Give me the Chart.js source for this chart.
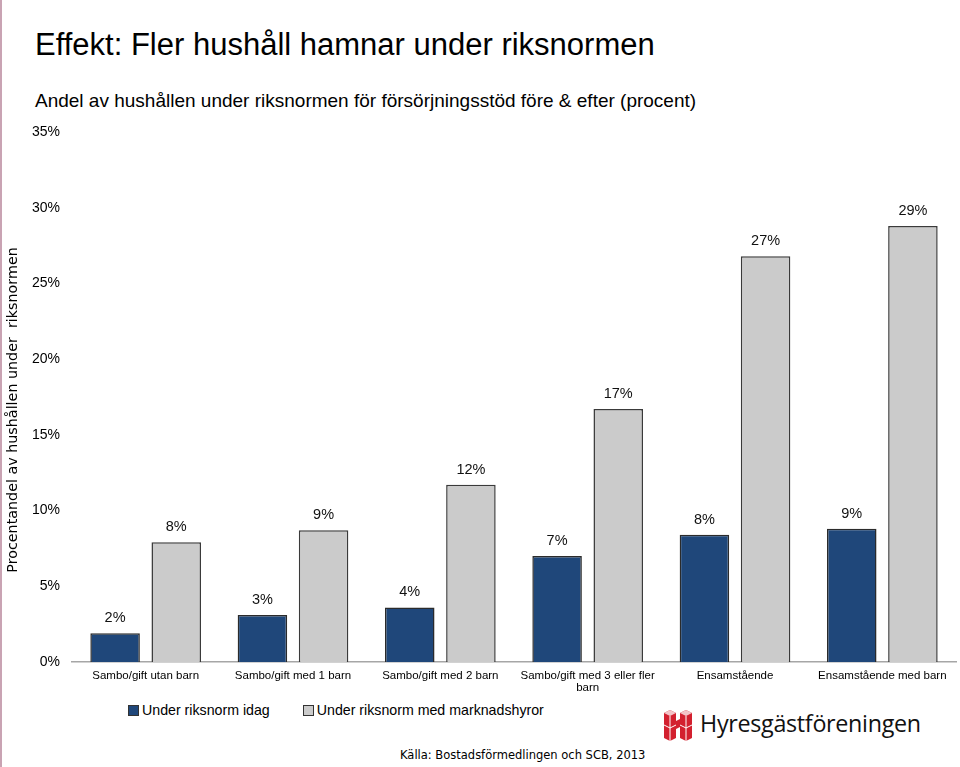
<!DOCTYPE html>
<html lang="sv">
<head>
    <meta charset="UTF-8">
    <title>Effekt: Fler hushåll hamnar under riksnormen</title>
    <script src="https://cdn.jsdelivr.net/npm/chart.js"></script>
    <style>
        html, body { margin: 0; padding: 0; background: #fff; }
        body { width: 960px; height: 767px; position: relative; overflow: hidden; font-family: "Liberation Sans", Arial, sans-serif; }
        #edge { position: absolute; left: 0; top: 0; width: 2px; height: 767px; background: #c9a3b3; }
        h1 { position: absolute; left: 35px; top: 27px; margin: 0; font-size: 31px; font-weight: normal; color: #000; }
        h2 { position: absolute; left: 35px; top: 90px; margin: 0; font-size: 19px; font-weight: normal; color: #000; }
        #chart-box { position: absolute; left: 0; top: 110px; width: 960px; height: 590px; }
        #legend { position: absolute; left: 128px; top: 702px; font-size: 14.2px; display: flex; gap: 33px; }
        #legend span.item { display: flex; align-items: center; }
        #legend i { display: inline-block; width: 9px; height: 9px; border: 1px solid #333; margin-right: 3px; }
        #source { position: absolute; left: 400px; top: 748px; font-family: "DejaVu Sans", sans-serif; font-size: 11.5px; color: #000; }
        #logo { position: absolute; left: 662px; top: 705px; display: flex; align-items: center; }
        #logo span { font-family: "Open Sans", "Noto Sans", sans-serif; font-size: 23.3px; color: #111; margin-left: 6px; letter-spacing: -0.3px; }
    </style>
</head>
<body>
    <div id="edge"></div>
    <h1>Effekt: Fler hushåll hamnar under riksnormen</h1>
    <h2>Andel av hushållen under riksnormen för försörjningsstöd före &amp; efter (procent)</h2>
    <div id="chart-box"><canvas id="barChart"></canvas></div>
    <div id="legend"></div>
    <div id="logo">
        <svg width="32" height="36" viewBox="0 0 32 36">
            <polygon points="2,8 8,5 14,8 14,33 8,36 2,33" fill="#d3202f"/>
            <polygon points="18,8 24,5 30,8 30,33 24,36 18,33" fill="#d3202f"/>
            <polygon points="14,16 18,14 18,22 14,24" fill="#d3202f"/>
            <polygon points="2,8 8,5 14,8 8,11" fill="#f3c4c8"/>
            <polygon points="18,8 24,5 30,8 24,11" fill="#f3c4c8"/>
            <polyline points="8,11 8,36" stroke="#fff" stroke-width="1" fill="none"/>
            <polyline points="24,11 24,36" stroke="#fff" stroke-width="1" fill="none"/>
            <polyline points="2,20 8,23 14,20" stroke="#fff" stroke-width="1" fill="none"/>
            <polyline points="18,20 24,23 30,20" stroke="#fff" stroke-width="1" fill="none"/>
        </svg>
        <span>Hyresgästföreningen</span>
    </div>
    <div id="source">Källa: Bostadsförmedlingen och SCB, 2013</div>
    <script>
        const categories = [
            'Sambo/gift utan barn',
            'Sambo/gift med 1 barn',
            'Sambo/gift med 2 barn',
            ['Sambo/gift med 3 eller fler', 'barn'],
            'Ensamstående',
            'Ensamstående med barn'
        ];
        const seriesNames = ['Under riksnorm idag', 'Under riksnorm med marknadshyror'];
        const underToday = [1.9, 3.1, 3.6, 7.0, 8.4, 8.8];
        const underMarket = [7.9, 8.7, 11.7, 16.7, 26.8, 28.8];
        const yTicks = [0, 5, 10, 15, 20, 25, 30, 35];
        const yTitle = 'Procentandel av hushållen under  riksnormen';
        const colors = ['#1f477a', '#cbcbcb'];

        // legend in html
        const legend = document.getElementById('legend');
        seriesNames.forEach((name, i) => {
            const item = document.createElement('span');
            item.className = 'item';
            item.innerHTML = `<i style="background:${colors[i]}"></i>${name}`;
            legend.appendChild(item);
        });

        const valueLabels = {
            id: 'valueLabels',
            afterDatasetsDraw(chart) {
                const ctx = chart.ctx;
                ctx.save();
                ctx.font = '14.5px "Liberation Sans", Arial, sans-serif';
                ctx.fillStyle = '#111';
                ctx.textAlign = 'center';
                ctx.textBaseline = 'middle';
                chart.data.datasets.forEach((ds, i) => {
                    chart.getDatasetMeta(i).data.forEach((bar, j) => {
                        ctx.fillText(Math.round(ds.data[j]) + '%', bar.x, bar.y - 15);
                    });
                });
                ctx.restore();
            }
        };

        // y axis title, sits a bit below the axis centre like in the original
        const yAxisTitle = {
            id: 'yAxisTitle',
            afterDraw(chart) {
                const ctx = chart.ctx;
                const area = chart.chartArea;
                ctx.save();
                ctx.translate(13, (area.top + area.bottom) / 2 + 13);
                ctx.rotate(-Math.PI / 2);
                ctx.font = '14.3px "DejaVu Sans", sans-serif';
                ctx.fillStyle = '#000';
                ctx.textAlign = 'center';
                ctx.textBaseline = 'middle';
                ctx.fillText(yTitle, 0, 0);
                ctx.restore();
            }
        };

        const ctx = document.getElementById('barChart').getContext('2d');
        new Chart(ctx, {
            type: 'bar',
            data: {
                labels: categories,
                datasets: [
                    { label: seriesNames[0], data: underToday, backgroundColor: colors[0], borderColor: '#2b2b2b', borderWidth: 1.5 },
                    { label: seriesNames[1], data: underMarket, backgroundColor: colors[1], borderColor: '#3a3a3a', borderWidth: 1.5 }
                ]
            },
            options: {
                responsive: true,
                maintainAspectRatio: false,
                animation: false,
                categoryPercentage: 0.83,
                barPercentage: 0.81,
                layout: { padding: { top: 22, right: 4, bottom: 0, left: 0 } },
                scales: {
                    x: {
                        grid: { display: false },
                        border: { display: true, color: '#a6a6a6', width: 1.5 },
                        ticks: {
                            color: '#000',
                            padding: 0,
                            maxRotation: 0,
                            autoSkip: false,
                            font: { family: '"Liberation Sans", Arial, sans-serif', size: 11.5, lineHeight: 1.05 }
                        },
                        afterFit(scale) { scale.height = 38; }
                    },
                    y: {
                        min: 0,
                        max: 35,
                        afterBuildTicks(scale) { scale.ticks = yTicks.map(v => ({ value: v })); },
                        grid: { display: false, drawTicks: false },
                        border: { display: false },
                        ticks: {
                            color: '#000',
                            padding: 12,
                            font: { family: '"Liberation Sans", Arial, sans-serif', size: 14 },
                            callback: v => v + '%'
                        },
                        afterFit(scale) { scale.width = 72; }
                    }
                },
                plugins: {
                    legend: { display: false },
                    tooltip: { enabled: false }
                }
            },
            plugins: [valueLabels, yAxisTitle]
        });
    </script>
</body>
</html>
